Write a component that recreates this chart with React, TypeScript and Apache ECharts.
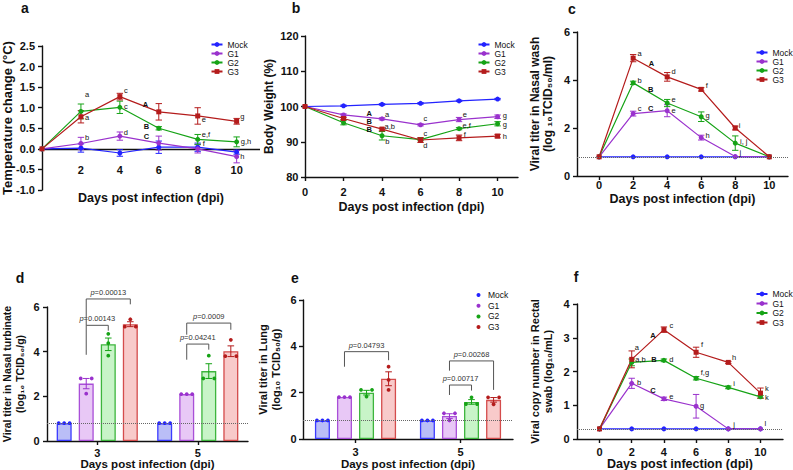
import React, { useEffect, useRef } from 'react';
import * as echarts from 'echarts';

const FONT = 'Liberation Sans, Arial, Helvetica, sans-serif';
const INK = '#111111';

const GROUPS = ['Mock', 'G1', 'G2', 'G3'];
const LINE_COLORS = ['#2323ff', '#9a32cd', '#16a316', '#b41c1c'];
const BAR_FILLS = ['#babef7', '#e8c8f6', '#c8f4c8', '#f8caca'];
const BAR_BORDERS = ['#3b3bff', '#a94fd8', '#3db53d', '#d44c4c'];
const SYMBOLS = ['circle', 'circle', 'circle', 'rect'];

const DAYS = [0, 2, 4, 6, 8, 10];
const DAY_TICKS = [2, 4, 6, 8, 10];
const DAY_TICKS0 = [0, 2, 4, 6, 8, 10];
const BAR_DAYS = ['3', '5'];

// a: temperature change
const tempMean = [
  [0, 0.02, -0.1, 0.04, 0.04, -0.08],
  [0, 0.13, 0.31, 0.14, 0.0, -0.19],
  [0, 0.91, 1.01, 0.5, 0.23, 0.17],
  [0, 0.78, 1.27, 0.9, 0.8, 0.67],
];
const tempErr = [
  [0, 0.1, 0.08, 0.15, 0.1, 0.05],
  [0, 0.15, 0.1, 0.17, 0.1, 0.15],
  [0, 0.18, 0.15, 0.04, 0.12, 0.12],
  [0, 0.15, 0.08, 0.2, 0.2, 0.07],
];
const tempNotes = [
  [2.32, 1.33, 'a'], [2.32, 0.76, 'a'], [4.31, 1.41, 'c'], [4.31, 1.03, 'c'],
  [5.32, 1.07, 'A'], [5.37, 0.54, 'B'], [5.37, 0.3, 'C'], [2.32, 0.27, 'b'],
  [4.31, 0.39, 'd'], [8.31, 0.71, 'e'], [8.42, 0.34, 'e,f'], [8.31, 0.13, 'f'],
  [10.29, 0.78, 'g'], [10.48, 0.17, 'g,h'], [10.29, -0.19, 'h'],
];

// b: body weight
const weightMean = [
  [100, 100.2, 100.6, 100.9, 101.6, 102.1],
  [100, 97.6, 96.5, 94.8, 96.3, 97.1],
  [100, 95.4, 91.7, 90.6, 93.7, 95.1],
  [100, 96.6, 93.6, 90.5, 91.1, 91.6],
];
const weightErr = [
  [0, 0.2, 0.2, 0.2, 0.2, 0.2],
  [0, 0.3, 0.3, 0.3, 0.6, 0.5],
  [0, 0.6, 1.2, 0.3, 0.3, 0.6],
  [0, 0.3, 0.3, 0.7, 0.8, 0.5],
];
const weightNotes = [
  [3.34, 98.0, 'A'], [3.34, 95.85, 'B'], [3.34, 93.6, 'B'], [4.26, 97.8, 'a'],
  [4.4, 94.4, 'a,b'], [4.27, 90.0, 'b'], [6.25, 96.7, 'c'], [6.25, 92.3, 'c'],
  [6.25, 88.8, 'd'], [8.3, 97.7, 'e'], [8.4, 94.7, 'e,f'], [8.3, 92.0, 'f'],
  [10.38, 97.5, 'g'], [10.38, 94.9, 'g'], [10.38, 91.5, 'h'],
];

// c: nasal wash
const washMean = [
  [0.8, 0.8, 0.8, 0.8, 0.8, 0.8],
  [0.8, 2.6, 2.72, 1.6, 0.81, 0.8],
  [0.8, 3.88, 3.04, 2.47, 1.37, 0.8],
  [0.8, 4.91, 4.13, 3.61, 2.0, 0.8],
];
const washErr = [
  [0, 0, 0, 0, 0, 0],
  [0, 0.1, 0.25, 0.1, 0, 0],
  [0, 0.07, 0.15, 0.2, 0.3, 0],
  [0, 0.15, 0.18, 0.07, 0.08, 0],
];
const washNotes = [
  [2.38, 5.09, 'a'], [3.07, 4.67, 'A'], [4.37, 4.34, 'd'], [6.33, 3.78, 'f'],
  [2.38, 3.96, 'b'], [3.03, 3.61, 'B'], [4.37, 3.2, 'e'], [4.37, 2.75, 'e'],
  [2.38, 2.8, 'c'], [3.03, 2.8, 'C'], [6.38, 2.54, 'g'], [6.38, 1.67, 'h'],
  [8.26, 2.09, 'i'], [8.5, 1.42, 'i, j'], [8.3, 1.0, 'j'],
];

// f: rectal swab
const rectalMean = [
  [0.3, 0.3, 0.3, 0.3, 0.3, 0.3],
  [0.3, 1.65, 1.19, 0.97, 0.3, 0.3],
  [0.3, 2.27, 2.33, 1.8, 1.53, 1.25],
  [0.3, 2.36, 3.24, 2.57, 2.27, 1.36],
];
const rectalErr = [
  [0, 0, 0, 0, 0, 0],
  [0, 0.15, 0.05, 0.35, 0, 0],
  [0, 0.1, 0.04, 0.05, 0.04, 0.04],
  [0, 0.25, 0.08, 0.15, 0.03, 0.15],
];
const rectalNotes = [
  [2.32, 2.71, 'a'], [2.55, 2.36, 'a,b'], [3.38, 2.36, 'B'], [3.32, 3.08, 'A'],
  [4.46, 3.35, 'c'], [4.46, 2.36, 'd'], [6.37, 2.81, 'f'], [6.55, 1.98, 'f,g'],
  [8.36, 2.41, 'h'], [8.36, 1.65, 'i'], [10.4, 1.5, 'k'], [10.4, 1.22, 'k'],
  [2.45, 1.68, 'b'], [3.32, 1.43, 'C'], [4.46, 1.26, 'e'], [6.37, 1.0, 'g'],
  [8.36, 0.44, 'j'], [10.3, 0.47, 'l'],
];

// d: nasal turbinate (group x day)
const turbMean = [[0.8, 0.8], [2.57, 2.1], [4.33, 3.13], [5.23, 4.02]];
const turbErr = [[0, 0], [0.23, 0], [0.28, 0.33], [0.11, 0.24]];
const turbDots = [
  [[0.8, 0.8, 0.8], [0.8, 0.8, 0.8]],
  [[2.8, 2.12, 2.8], [2.1, 2.1, 2.1]],
  [[4.38, 4.8, 3.82], [3.82, 2.8, 2.8]],
  [[5.12, 5.45, 5.12], [3.8, 4.53, 3.8]],
];
// [day index, from group, to group, bracket top, left end, right end]
const turbBrackets = [
  [0, 1, 2, 5.18, 3.86, 4.94],
  [0, 1, 3, 6.36, 5.18, 6.12],
  [1, 1, 2, 4.34, 3.64, 4.09],
  [1, 1, 3, 5.28, 4.76, 4.98],
];
const turbP = ['0.00143', '0.00013', '0.04241', '0.0009'];

// e: lung
const lungMean = [[0.8, 0.8], [1.81, 0.99], [2.0, 1.6], [2.6, 1.69]];
const lungErr = [[0, 0], [0, 0.1], [0.1, 0.1], [0.3, 0.1]];
const lungDots = [
  [[0.8, 0.8, 0.8], [0.8, 0.8, 0.8]],
  [[1.81, 1.81, 1.81], [1.11, 0.8, 1.11]],
  [[2.12, 1.83, 2.12], [1.51, 1.8, 1.51]],
  [[3.12, 2.55, 2.12], [1.8, 1.5, 1.8]],
];
const lungBrackets = [
  [0, 1, 3, 3.77, 3.12, 3.4],
  [1, 1, 2, 2.33, 1.9, 2.09],
  [1, 1, 3, 3.37, 2.95, 2.12],
];
const lungP = ['0.04793', '0.00717', '0.00268'];

const GRIDS = [
  { left: 42, top: 46, width: 218, height: 144 },
  { left: 305, top: 36, width: 213, height: 141 },
  { left: 577, top: 32, width: 211, height: 144 },
  { left: 47, top: 307, width: 201, height: 134 },
  { left: 303, top: 300, width: 210, height: 139 },
  { left: 577, top: 304, width: 206, height: 135 },
];

const BAR_W = 15;
const STEP = BAR_W * 1.47;

const AX_LINE = { show: true, lineStyle: { color: INK, width: 1.4 } };
const AX_TICK = { show: true, length: 4, inside: false, lineStyle: { color: INK, width: 1.4 } };
const labelStyle = (margin: number) => ({ color: INK, fontSize: 11, fontWeight: 'bold', fontFamily: FONT, margin, lineHeight: 11 });
const nameStyle = (fontSize: number) => ({ color: INK, fontSize, fontWeight: 'bold', fontFamily: FONT, lineHeight: 13.5 });

function dayAxis(idx: number, min: number, max: number, ticks: number[], margin: number, nameGap: number, bare: boolean) {
  return {
    type: 'value', gridIndex: idx, min, max,
    splitLine: { show: false },
    axisLine: { ...AX_LINE, show: !bare, onZero: false },
    axisTick: { ...AX_TICK, show: !bare, customValues: ticks },
    axisLabel: { ...labelStyle(margin), show: !bare, customValues: ticks },
    name: 'Days post infection (dpi)', nameLocation: 'middle', nameGap,
    nameTextStyle: { ...nameStyle(12.5), lineHeight: 12.5 }, nameMoveOverlap: false,
  };
}
function catAxis(idx: number, margin: number, nameGap: number) {
  return {
    type: 'category', gridIndex: idx, data: BAR_DAYS,
    axisLine: { ...AX_LINE, onZero: false },
    axisTick: { ...AX_TICK, alignWithLabel: true },
    axisLabel: labelStyle(margin),
    name: 'Days post infection (dpi)', nameLocation: 'middle', nameGap,
    nameTextStyle: { ...nameStyle(11.5), lineHeight: 11.5 }, nameMoveOverlap: false,
  };
}
function valAxis(idx: number, min: number, max: number, interval: number, name: string, nameGap: number, fs: number, dec: number, margin: number) {
  return {
    type: 'value', gridIndex: idx, min, max, interval,
    splitLine: { show: false },
    axisLine: { ...AX_LINE, onZero: false },
    axisTick: AX_TICK,
    axisLabel: { ...labelStyle(margin), formatter: (v: number) => v.toFixed(dec) },
    name, nameLocation: 'middle', nameGap, nameTextStyle: nameStyle(fs), nameMoveOverlap: false,
  };
}

function capBar(x: number, yTop: number, yBot: number, color: string, half: number) {
  const st = { stroke: color, lineWidth: 1 };
  return [
    { type: 'line', shape: { x1: x, y1: yTop, x2: x, y2: yBot }, style: st },
    { type: 'line', shape: { x1: x - half, y1: yTop, x2: x + half, y2: yTop }, style: st },
    { type: 'line', shape: { x1: x - half, y1: yBot, x2: x + half, y2: yBot }, style: st },
  ];
}

function notesSeries(p: number, notes: any[]) {
  return {
    type: 'custom', xAxisIndex: p, yAxisIndex: p, silent: true, z: 6, clip: false,
    data: notes.map((n) => [n[0], n[1]]),
    renderItem: (params: any, api: any) => {
      const pt = api.coord([api.value(0), api.value(1)]);
      const t = notes[params.dataIndex][2];
      const bold = /^[A-Z]$/.test(t);
      return {
        type: 'text', x: pt[0], y: pt[1],
        style: { text: t, fill: INK, fontSize: 7.5, lineHeight: 7.5, fontWeight: bold ? 'bold' : 'normal', fontFamily: FONT, align: 'center', verticalAlign: 'middle' },
      };
    },
  };
}

// Tick labels of panel a sit below its zero line (x axis drawn through y = 0)
function zeroAxisLabels(p: number, ticks: number[]) {
  return {
    type: 'custom', xAxisIndex: p, yAxisIndex: p, silent: true, z: 6, clip: false,
    data: ticks.map((t) => [t, 0]),
    renderItem: (params: any, api: any) => {
      const pt = api.coord([api.value(0), 0]);
      return {
        type: 'text', x: pt[0], y: pt[1] + 21,
        style: { text: String(ticks[params.dataIndex]), fill: INK, fontSize: 11, fontWeight: 'bold', fontFamily: FONT, align: 'center', verticalAlign: 'middle' },
      };
    },
  };
}

function refLine(y: number, solid: boolean) {
  return {
    silent: true, symbol: 'none', label: { show: false },
    lineStyle: solid ? { type: 'solid', color: INK, width: 1.4 } : { type: 'dotted', color: '#666', width: 1 },
    data: [{ yAxis: y }],
  };
}

function linePanel(p: number, means: number[][], errs: number[][], notes: any[], lod: number | null, zeroAxis: boolean) {
  const out: any[] = [];
  means.forEach((m, g) => {
    const color = LINE_COLORS[g];
    const s: any = {
      type: 'line', name: GROUPS[g], xAxisIndex: p, yAxisIndex: p,
      data: DAYS.map((d, i) => [d, m[i]]),
      symbol: SYMBOLS[g], symbolSize: 5,
      lineStyle: { color, width: 1.2 }, itemStyle: { color }, z: 3,
    };
    if (lod !== null && g === 0) s.markLine = refLine(lod, false);
    if (zeroAxis && g === 0) s.markLine = { ...refLine(0, true), z: 2 };
    out.push(s);
    out.push({
      type: 'custom', xAxisIndex: p, yAxisIndex: p, silent: true, z: 3,
      data: DAYS.map((d, i) => [d, m[i], errs[g][i]]),
      renderItem: (params: any, api: any) => {
        const x = api.value(0), y = api.value(1), e = api.value(2);
        if (!e) return { type: 'group', children: [] };
        const a = api.coord([x, y + e]);
        const b = api.coord([x, y - e]);
        return { type: 'group', children: capBar(a[0], a[1], b[1], color, 3.2) };
      },
    });
  });
  out.push(notesSeries(p, notes));
  if (zeroAxis) out.push(zeroAxisLabels(p, DAY_TICKS));
  return out;
}

function jitter(vals: number[], i: number) {
  const same = vals.map((_, k) => k).filter((k) => vals[k] === vals[i]);
  if (same.length === 1) return 0;
  if (same.length === 3) return i - 1;
  return same.indexOf(i) === 0 ? -1 : 1;
}

function barPanel(p: number, means: number[][], errs: number[][], dots: number[][][], brackets: number[][], pvals: string[]) {
  const out: any[] = [];
  means.forEach((m, g) => {
    const s: any = {
      type: 'bar', name: GROUPS[g], xAxisIndex: p, yAxisIndex: p, data: m,
      barWidth: BAR_W, barGap: '47%',
      itemStyle: { color: BAR_FILLS[g], borderColor: BAR_BORDERS[g], borderWidth: 1.3 }, z: 2,
    };
    if (g === 0) s.markLine = refLine(0.8, false);
    out.push(s);
  });
  const errEntries: any[] = [];
  means.forEach((m, g) => m.forEach((v, c) => errEntries.push({ c, g, v, e: errs[g][c] })));
  out.push({
    type: 'custom', xAxisIndex: p, yAxisIndex: p, silent: true, z: 3,
    data: errEntries.map((d) => [d.c, d.v]),
    renderItem: (params: any, api: any) => {
      const d = errEntries[params.dataIndex];
      if (!d.e) return { type: 'group', children: [] };
      const a = api.coord([d.c, d.v + d.e]);
      const b = api.coord([d.c, d.v - d.e]);
      const x = a[0] + (d.g - 1.5) * STEP;
      return { type: 'group', children: capBar(x, a[1], b[1], LINE_COLORS[d.g], 3.3) };
    },
  });
  const dotEntries: any[] = [];
  dots.forEach((byDay, g) => byDay.forEach((vals, c) => vals.forEach((v, i) => dotEntries.push({ c, g, v, j: jitter(vals, i) }))));
  out.push({
    type: 'custom', xAxisIndex: p, yAxisIndex: p, silent: true, z: 4,
    data: dotEntries.map((d) => [d.c, d.v]),
    renderItem: (params: any, api: any) => {
      const d = dotEntries[params.dataIndex];
      const pt = api.coord([d.c, d.v]);
      return {
        type: 'circle',
        shape: { cx: pt[0] + (d.g - 1.5) * STEP + d.j * 5.5, cy: pt[1], r: 1.9 },
        style: { fill: LINE_COLORS[d.g], stroke: 'none' },
      };
    },
  });
  out.push({
    type: 'custom', xAxisIndex: p, yAxisIndex: p, silent: true, z: 5, clip: false,
    data: brackets.map((b) => [b[0], b[3]]),
    renderItem: (params: any, api: any) => {
      const [c, g1, g2, top, yl, yr] = brackets[params.dataIndex];
      const base = api.coord([c, top]);
      const xl = base[0] + (g1 - 1.5) * STEP;
      const xr = base[0] + (g2 - 1.5) * STEP;
      const yt = base[1];
      const yL = api.coord([c, yl])[1];
      const yR = api.coord([c, yr])[1];
      return {
        type: 'group',
        children: [
          { type: 'polyline', shape: { points: [[xl, yL], [xl, yt], [xr, yt], [xr, yR]] }, style: { stroke: '#555', lineWidth: 1, fill: 'none' } },
          {
            type: 'text', x: (xl + xr) / 2, y: yt - 6.5,
            style: {
              text: '{i|p}=' + pvals[params.dataIndex],
              rich: { i: { fontStyle: 'italic', fontSize: 7.5, fontFamily: FONT, fill: '#333' } },
              fontSize: 7.5, lineHeight: 8, fontFamily: FONT, fill: '#333', align: 'center', verticalAlign: 'middle',
            },
          },
        ],
      };
    },
  });
  return out;
}

function legendAt(left: number, top: number, gap: number, dotOnly: boolean) {
  return {
    orient: 'vertical', left, top, padding: 0, itemGap: gap,
    itemWidth: dotOnly ? 9 : 11, itemHeight: dotOnly ? 4 : 6,
    selectedMode: false,
    textStyle: { fontSize: 8.5, fontFamily: FONT, color: INK, lineHeight: 9 },
    data: GROUPS.map((n) => (dotOnly ? { name: n, icon: 'circle' } : { name: n })),
  };
}

function panelLetter(x: number, y: number, t: string) {
  return {
    type: 'text', x, y,
    style: { text: t, fill: INK, fontSize: 14, fontWeight: 'bold', fontFamily: FONT, align: 'center', verticalAlign: 'middle' },
  };
}

function buildOption() {
  return {
    animation: false,
    backgroundColor: '#ffffff',
    textStyle: { fontFamily: FONT },
    grid: GRIDS.map((g) => ({ ...g, containLabel: false, outerBoundsMode: 'none', show: false })),
    xAxis: [
      dayAxis(0, 0, 11.2, DAY_TICKS, 6, 1.5, true),
      dayAxis(1, 0, 11.06, DAY_TICKS0, 9.5, 24, false),
      dayAxis(2, -1.3, 11.1, DAY_TICKS0, 3.5, 16.5, false),
      catAxis(3, 6, 17),
      catAxis(4, 7, 19),
      dayAxis(5, -1.4, 11.4, DAY_TICKS0, 7, 18.5, false),
    ],
    yAxis: [
      valAxis(0, -1, 2.5, 0.5, 'Temperature change (°C)', 28, 13, 1, 7),
      valAxis(1, 80, 120, 10, 'Body Weight (%)', 29, 12, 0, 6.5),
      valAxis(2, 0, 6, 2, 'Viral titer in Nasal wash\n(log ₁₀TCID₅₀/ml)', 22, 12, 0, 7),
      valAxis(3, 0, 6, 2, 'Viral titer in Nasal turbinate\n(log₁₀ TCID₅₀/g)', 20, 10.5, 0, 7.5),
      valAxis(4, 0, 6, 2, 'Viral titer in Lung\n(log₁₀ TCID₅₀/g)', 20, 11, 0, 6.5),
      valAxis(5, 0, 4, 1, 'Viral copy number in Rectal\nswab (log₁₀/mL)', 22, 11, 0, 7.5),
    ],
    legend: [
      legendAt(210.5, 40, 0, false),
      legendAt(477.5, 40, 0, false),
      legendAt(755.5, 48, 0, false),
      legendAt(476.5, 290.5, 1.7, true),
      legendAt(755.5, 289.5, 0.5, false),
    ],
    graphic: [
      panelLetter(25, 8, 'a'),
      panelLetter(296, 8, 'b'),
      panelLetter(572, 9, 'c'),
      panelLetter(20, 278, 'd'),
      panelLetter(295, 278, 'e'),
      panelLetter(576, 277, 'f'),
    ],
    series: [
      ...linePanel(0, tempMean, tempErr, tempNotes, null, true),
      ...linePanel(1, weightMean, weightErr, weightNotes, null, false),
      ...linePanel(2, washMean, washErr, washNotes, 0.8, false),
      ...linePanel(5, rectalMean, rectalErr, rectalNotes, 0.3, false),
      ...barPanel(3, turbMean, turbErr, turbDots, turbBrackets, turbP),
      ...barPanel(4, lungMean, lungErr, lungDots, lungBrackets, lungP),
    ],
  };
}

export default function App() {
  const ref = useRef<HTMLDivElement>(null);
  useEffect(() => {
    const chart = echarts.init(ref.current as HTMLDivElement, null, { renderer: 'svg' });
    chart.setOption(buildOption() as any);
    return () => chart.dispose();
  }, []);
  return (
    <div
      ref={ref}
      style={{ position: 'fixed', left: 0, top: 0, width: 793, height: 470, background: '#ffffff' }}
    />
  );
}
